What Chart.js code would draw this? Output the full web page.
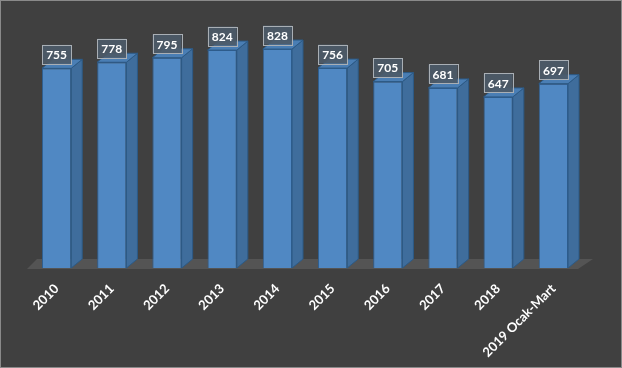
<!DOCTYPE html>
<html><head><meta charset="utf-8">
<script src="https://cdn.jsdelivr.net/npm/chart.js@4"></script>
<style>html,body{margin:0;padding:0;background:#404040;}#w{width:622px;height:368px;position:relative;}</style>
</head><body><div id="w"><canvas id="c"></canvas></div>
<script>
const categories = ["2010","2011","2012","2013","2014","2015","2016","2017","2018","2019 Ocak-Mart"];
const values = [755,778,795,824,828,756,705,681,647,697];

const DX = 11, DY = 9;
const threeD = {
  id: 'threeD',
  beforeDraw(chart) {
    const ctx = chart.ctx;
    ctx.save();
    ctx.fillStyle = '#404040';
    ctx.fillRect(0,0,chart.width,chart.height);
    ctx.strokeStyle = '#8a8a8a';
    ctx.lineWidth = 1;
    ctx.strokeRect(0.5,0.5,chart.width-1,chart.height-1);
    ctx.restore();
  },
  beforeDatasetsDraw(chart) {
    const ctx = chart.ctx, a = chart.chartArea;
    const y0 = chart.scales.y.getPixelForValue(0);
    ctx.save();
    ctx.fillStyle = '#545454';
    ctx.beginPath();
    ctx.moveTo(a.left - 2, y0 + 1);
    ctx.lineTo(a.right - 3, y0 + 1);
    ctx.lineTo(a.right + 12, y0 - DY);
    ctx.lineTo(a.left + 8, y0 - DY);
    ctx.closePath();
    ctx.fill();
    ctx.restore();
  },
  afterDatasetsDraw(chart) {
    const ctx = chart.ctx;
    const meta = chart.getDatasetMeta(0);
    ctx.save();
    meta.data.forEach(bar => {
      const l = bar.x - bar.width/2, r = bar.x + bar.width/2, t = bar.y, b = bar.base;
      ctx.fillStyle = '#3f6d9c';
      ctx.strokeStyle = '#2c5a86';
      ctx.lineWidth = 1;
      ctx.beginPath();
      ctx.moveTo(r, t); ctx.lineTo(r+DX, t-DY); ctx.lineTo(r+DX, b-DY); ctx.lineTo(r, b); ctx.closePath();
      ctx.fill(); ctx.stroke();
      ctx.fillStyle = '#4a7eb4';
      ctx.beginPath();
      ctx.moveTo(l, t); ctx.lineTo(l+DX, t-DY); ctx.lineTo(r+DX, t-DY); ctx.lineTo(r, t); ctx.closePath();
      ctx.fill(); ctx.stroke();
    });
    ctx.font = 'bold 12px Lato, "Open Sans", sans-serif';
    ctx.textAlign = 'center';
    ctx.textBaseline = 'middle';
    meta.data.forEach((bar, i) => {
      const txt = String(values[i]);
      const w = ctx.measureText(txt).width + 8, h = 19;
      const cx = bar.x, cy = bar.y - 14;
      ctx.fillStyle = 'rgba(76,90,104,0.92)';
      ctx.fillRect(cx - w/2, cy - h/2, w, h);
      ctx.strokeStyle = '#a9afb5';
      ctx.lineWidth = 1;
      ctx.strokeRect(Math.round(cx - w/2)+0.5, Math.round(cy - h/2)+0.5, Math.round(w), h);
      ctx.fillStyle = '#ffffff';
      ctx.fillText(txt, cx, cy + 1);
    });
    ctx.restore();
  }
};

new Chart(document.getElementById('c'), {
  type: 'bar',
  data: {
    labels: categories,
    datasets: [{
      data: values,
      backgroundColor: '#5088c3',
      borderColor: '#2f5f92',
      borderWidth: 1,
      barPercentage: 0.53,
      categoryPercentage: 1.0
    }]
  },
  options: {
    responsive: true,
    maintainAspectRatio: false,
    animation: false,
    devicePixelRatio: 1,
    layout: { padding: { left: 29, right: 41, top: 30, bottom: 0 } },
    plugins: { legend: { display: false }, tooltip: { enabled: false } },
    scales: {
      x: {
        grid: { display: false, drawTicks: false },
        border: { display: false },
        afterFit(axis) { axis.height = 100; },
        ticks: {
          color: '#ffffff',
          minRotation: 45, maxRotation: 45,
          padding: 13,
          font: { family: 'Lato, "Open Sans", sans-serif', size: 13, weight: 'bold' }
        }
      },
      y: {
        display: false,
        min: 0, max: 900
      }
    }
  },
  plugins: [threeD]
});
</script>
</body></html>
